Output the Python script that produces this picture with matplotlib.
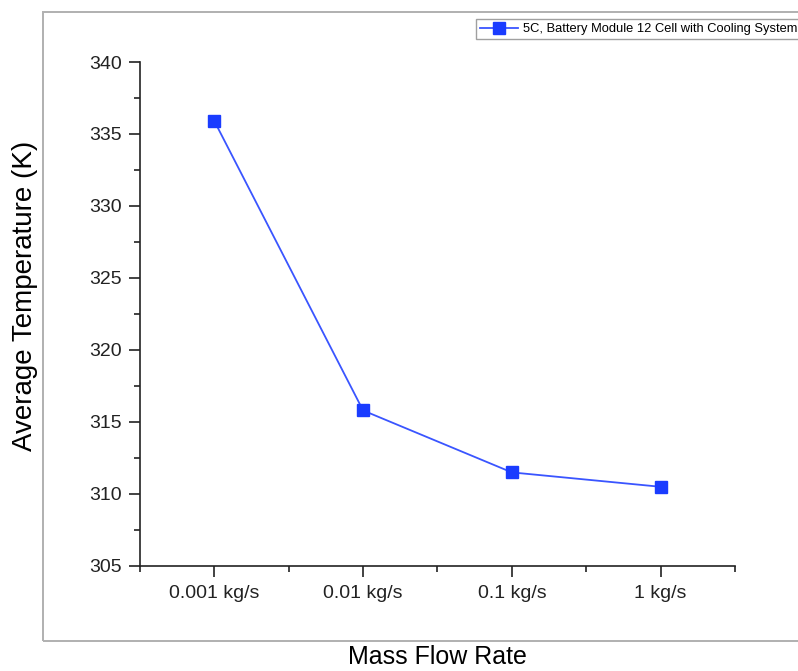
import matplotlib.pyplot as plt
from matplotlib.patches import Rectangle
from matplotlib.ticker import MultipleLocator, FixedLocator

plt.rcParams['font.family'] = ['Liberation Sans', 'DejaVu Sans']

flow_labels = ["0.001 kg/s", "0.01 kg/s", "0.1 kg/s", "1 kg/s"]
avg_temp = [335.9, 315.8, 311.5, 310.5]
series_name = "5C, Battery Module 12 Cell with Cooling System"

x = range(1, len(flow_labels) + 1)

fig = plt.figure(figsize=(7.98, 6.71), dpi=100)
ax = fig.add_axes([0.1754, 0.1565, 0.7456, 0.7511])

# outer gray frame (right side runs off the picture, as in the original)
fig.patches.append(Rectangle((0.054, 0.045), 1.0, 0.937, transform=fig.transFigure,
                             fill=False, edgecolor='#b0b0b0', linewidth=1.4))

ax.plot(x, avg_temp, color='#3a55ff', linewidth=1.3, marker='s', markersize=8,
        markerfacecolor='#1a3cff', markeredgecolor='#1a3cff', label=series_name)

ax.set_xlim(0.5, 4.5)
ax.set_ylim(305, 340)
ax.set_xticks(list(x))
ax.set_xticklabels(flow_labels)
ax.xaxis.set_minor_locator(FixedLocator([0.5, 1.5, 2.5, 3.5, 4.5]))
ax.yaxis.set_major_locator(MultipleLocator(5))
ax.yaxis.set_minor_locator(MultipleLocator(2.5))

for side in ['top', 'right']:
    ax.spines[side].set_visible(False)
for side in ['left', 'bottom']:
    ax.spines[side].set_linewidth(1.2)
    ax.spines[side].set_color('#222222')

ax.tick_params(which='major', direction='out', length=8, width=1.2, labelsize=14, colors='#222222')
ax.tick_params(which='minor', direction='out', length=4, width=1.2, colors='#222222')
ax.tick_params(axis='x', which='major', pad=6)
ax.tick_params(axis='y', which='major', pad=5)

fig.text(0.031, 0.559, "Average Temperature (K)", fontsize=20, rotation=90,
         ha='center', va='center')
fig.text(0.548, 0.021, "Mass Flow Rate", fontsize=18, ha='center', va='center')

# legend box runs past the right edge in the original too
leg = fig.legend(loc='upper left', bbox_to_anchor=(0.597, 0.971), fontsize=9.3,
                 frameon=True, fancybox=False, borderpad=0.3, handlelength=2.9,
                 handletextpad=0.4, borderaxespad=0)
leg.get_frame().set_edgecolor('#888888')
leg.get_frame().set_linewidth(1.0)

fig.savefig("out.png", dpi=100)
